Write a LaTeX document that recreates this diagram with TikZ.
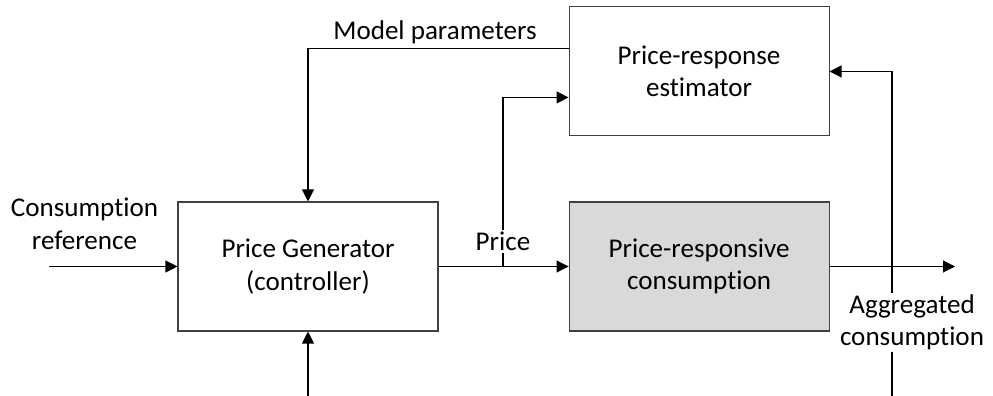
\documentclass[tikz,border=0pt]{standalone}
\usepackage{fontspec}
\setmainfont[Ligatures=NoCommon]{Carlito}
\usepackage{xcolor}
\usepackage{tikz}
\usetikzlibrary{arrows.meta,positioning,calc}

\definecolor{edgegray}{HTML}{404040}
\definecolor{boxfill}{HTML}{D9D9D9}

\begin{document}
\begin{tikzpicture}[node distance=1.3cm, font=\fontsize{15.4}{18.5}\selectfont,
  every node/.style={align=center},
  block/.style={draw=edgegray, line width=0.6pt, minimum width=5.2cm, minimum height=2.58cm},
  sig/.style={line width=0.6pt, -{Triangle[length=0.24cm, width=0.24cm]}}]
  \useasboundingbox (0,0) rectangle (19.86,-7.92);

  \node[block] (gen) at (6.16,-5.33) {Price Generator\\(controller)};
  \node[block, fill=boxfill, right=2.6cm of gen] (cons) {Price-responsive\\consumption};
  \node[block, above=1.3cm of cons] (est) {Price-response\\estimator};

  \coordinate (refin) at (0.98,-5.33);
  \coordinate (split) at (10.06,-5.33);
  \coordinate (extin) at (6.16,-7.92);
  \coordinate (out) at (19.1,-5.33);
  \coordinate (fbstart) at (17.84,-7.92);

  % controller input
  \draw[sig] (refin) -- (gen.west);
  \node at (1.69,-4.48) {Consumption\\reference};
  \draw[sig] (extin) -- (gen.south);

  % price signal
  \draw[sig] (gen.east) -- (cons.west);
  \draw[sig] (split) |- ($(est.west)+(0,-0.52)$);
  \node[fill=white, inner sep=1pt] at ($(split)+(0,0.5)$) {Price};

  % model parameters back to controller
  \draw[sig] ($(est.west)+(0,0.46)$) -| (gen.north);
  \node at (8.7,-0.64) {Model parameters};

  % output and feedback
  \draw[sig] (cons.east) -- (out);
  \draw[sig] (fbstart) |- (est.east);
  \node[fill=white, inner sep=1pt] at (18.24,-6.45) {Aggregated\\consumption};
\end{tikzpicture}
\end{document}
